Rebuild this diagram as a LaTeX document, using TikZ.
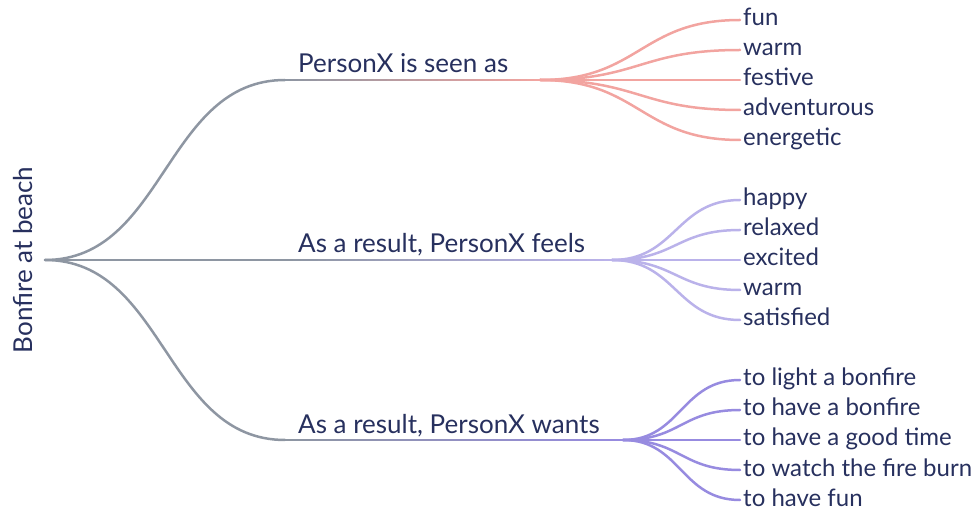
\documentclass[tikz,border=0pt]{standalone}
\usepackage{fontspec}
\setmainfont{Lato}
\usetikzlibrary{calc}
\definecolor{txt}{HTML}{27305E}
\definecolor{lgray}{HTML}{8E96A2}
\definecolor{lpink}{HTML}{F2A4A0}
\definecolor{llav}{HTML}{BAB2EA}
\definecolor{lpur}{HTML}{978BE0}
\tikzset{
  lbl/.style={inner sep=0pt, text=txt, font=\fontsize{26}{30}\selectfont, anchor=base west},
  leaf/.style={inner sep=0pt, text=txt, font=\fontsize{24}{28}\selectfont, anchor=base west},
  link/.style={line width=2.5pt, line cap=round},
  seg/.style={line width=2.5pt, line cap=butt},
}
\begin{document}
\begin{tikzpicture}[x=1pt,y=-1pt]
\useasboundingbox (0,0) rectangle (972,510);
% root
\node[inner sep=0pt, text=txt, font=\fontsize{26}{30}\selectfont, rotate=90, anchor=base] (root) at (32,260) {Bonfire at beach};
\coordinate (r) at (45,260);
% branch anchors
\coordinate (a0) at (285,80);  \coordinate (fa) at (540,80);
\coordinate (b0) at (285,260); \coordinate (fb) at (612,260);
\coordinate (c0) at (285,440); \coordinate (fc) at (623,440);
% root links
\draw[link, lgray] (r) .. controls (165,260) and (165,80) .. (a0);
\draw[link, lgray] (r) -- (b0);
\draw[link, lgray] (r) .. controls (165,260) and (165,440) .. (c0);
% gradient underlines (segments)
\foreach \s/\e/\c in {a0/fa/lpink, b0/fb/llav, c0/fc/lpur}{
  \foreach \i in {0,...,39}{
    \pgfmathsetmacro{\p}{100*\i/39}
    \draw[seg, color=\c!\p!lgray] ($(\s)!\i/40!(\e)$) -- ($(\s)!{(\i+1.2)/40}!(\e)$);
  }
}
% branch labels
\node[lbl] (A) at (298,73) {PersonX is seen as};
\node[lbl] (B) at (298,253) {As a result, PersonX feels};
\node[lbl] (C) at (298,433) {As a result, PersonX wants};
% leaves
\foreach \n/\y/\t in {a1/20/fun, a2/50/warm, a3/80/festive, a4/110/adventurous, a5/140/energetic}{
  \coordinate (e\n) at (740,\y);
  \node[leaf] (\n) at (743,\y+6) {\t};
  \draw[link, lpink] (fa) .. controls (640,80) and (640,\y) .. (e\n);
}
\foreach \n/\y/\t in {b1/200/happy, b2/230/relaxed, b3/260/excited, b4/290/warm, b5/320/satisfied}{
  \coordinate (e\n) at (740,\y);
  \node[leaf] (\n) at (743,\y+6) {\t};
  \draw[link, llav] (fb) .. controls (676,260) and (676,\y) .. (e\n);
}
\foreach \n/\y/\t in {c1/380/to light a bonfire, c2/410/to have a bonfire, c3/440/to have a good time, c4/470/to watch the fire burn, c5/500/to have fun}{
  \coordinate (e\n) at (740,\y);
  \node[leaf] (\n) at (743,\y+6) {\t};
  \draw[link, lpur] (fc) .. controls (681,440) and (681,\y) .. (e\n);
}
\end{tikzpicture}
\end{document}
